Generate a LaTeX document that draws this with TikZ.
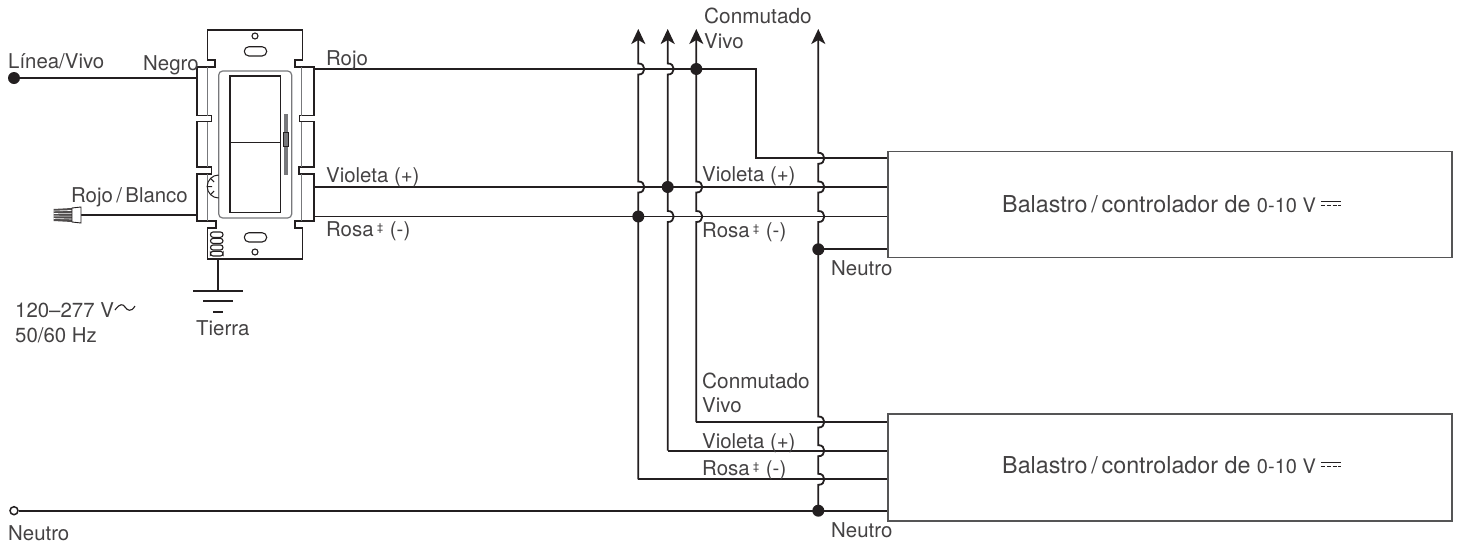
\documentclass[tikz,border=0pt]{standalone}
\usepackage{fontspec}
\setmainfont{TeX Gyre Heros}
\usetikzlibrary{arrows.meta}
\definecolor{ink}{HTML}{231F20}
\definecolor{txt}{HTML}{444243}
\definecolor{soft}{HTML}{77787B}
\definecolor{edge}{HTML}{555556}
\newcommand{\hopy}[2]{-- (#1,#2+5.5) .. controls (#1+8,#2+6) and (#1+8,#2-6) .. (#1,#2-5.5)}
\newcommand{\ddg}{\raisebox{5pt}{\fontsize{11}{11}\selectfont ‡}}
\tikzset{
 wire/.style={draw=ink,line width=1.8pt,line join=miter},
 thin part/.style={draw=soft,line width=1.2pt},
 plate/.style={draw=ink,line width=1.8pt,line join=miter},
 dotn/.style={circle,fill=ink,draw=none,minimum size=12pt,inner sep=0pt},
 lbl/.style={anchor=base west,inner sep=0pt,text=txt,font=\fontsize{20.4}{24}\selectfont},
 biglbl/.style={anchor=base west,inner sep=0pt,text=txt,font=\fontsize{20.8}{24}\selectfont},
 boxn/.style={draw=edge,line width=1.5pt,anchor=north west,inner sep=0pt},
 slot/.style={draw=ink,line width=1.1pt},
 arr/.style={-{Stealth[length=15pt,width=14pt,inset=4pt]}},
 ballast/.style={anchor=base west,inner sep=0pt,text=txt,font=\fontsize{23.3}{26}\selectfont},
}
\begin{document}
\begin{tikzpicture}[x=1pt,y=-1pt]
\useasboundingbox (0,0) rectangle (1457,544);
% boxes
\node[boxn,minimum width=564pt,minimum height=106pt] (b1) at (887.3,150.7) {};
\node[boxn,minimum width=564pt,minimum height=107pt] (b2) at (887.3,413.3) {};
% junction dots
\node[dotn] (line) at (14,78) {};
\node[dotn] (j1) at (696.3,69) {};
\node[dotn] (j2) at (667.7,187) {};
\node[dotn] (j3) at (638.3,216.5) {};
\node[dotn] (j4) at (818.3,249.3) {};
\node[dotn] (j5) at (818.3,510.7) {};
\node[circle,draw=ink,fill=white,line width=1.5pt,minimum size=8pt,inner sep=0pt] (neutral) at (14,510.7) {};
% wires from switch
\coordinate (sRojo) at (314,69);
\coordinate (sViol) at (314,187);
\coordinate (sRosa) at (314,216.5);
\coordinate (sNeg) at (197,78);
\coordinate (sRB) at (197,215);
\coordinate (nut) at (81,215);
\coordinate (r1) at (887.3,158.3);
\coordinate (r2) at (887.3,187);
\coordinate (r3) at (887.3,216.5);
\coordinate (r4) at (887.3,249.3);
\coordinate (q1) at (887.3,422);
\coordinate (q2) at (887.3,450.7);
\coordinate (q3) at (887.3,479.3);
\coordinate (q4) at (887.3,510.7);
\draw[wire] (line) -- (sNeg);
\draw[wire] (nut) -- (sRB);
\draw[wire] (sRojo) -- (j1.center) -| (756,158.3) -- (r1);
\draw[wire] (sViol) -- (r2);
\draw[wire] (sRosa) -- (r3);
\draw[wire] (j4.center) -- (r4);
\draw[wire] (neutral) -- (q4);
% risers with hops
\draw[wire,arr] (638.3,479.3) -- (j3.center) \hopy{638.3}{187} \hopy{638.3}{69} -- (638.3,29);
\draw[wire,arr] (667.7,450.7) \hopy{667.7}{216.5} -- (j2.center) \hopy{667.7}{69} -- (667.7,29);
\draw[wire,arr] (696.3,422) \hopy{696.3}{216.5} \hopy{696.3}{187} -- (j1.center) -- (696.3,29);
\draw[wire,arr] (j5.center) \hopy{818.3}{479.3} \hopy{818.3}{450.7} \hopy{818.3}{422} -- (j4.center)
  \hopy{818.3}{216.5} \hopy{818.3}{187} \hopy{818.3}{158.3} -- (818.3,29);
\draw[wire] (696.3,422) -- (q1);
\draw[wire] (667.7,450.7) -- (q2);
\draw[wire] (638.3,479.3) -- (q3);
% switch plate
\draw[plate,fill=white] (207.5,30) -- (207.5,60) -- (215,60) -- (215,67) -- (197,67) -- (197,115.5) -- (211.5,115.5) -- (211.5,121.5) -- (197,121.5) -- (197,166.7) -- (211.5,166.7) -- (211.5,173.7) -- (197,173.7) -- (197,221) -- (216,221) -- (216,228) -- (207.5,228) -- (207.5,259) -- (302.5,259) -- (302.5,228) -- (295,228) -- (295,221) -- (314,221) -- (314,173.7) -- (299,173.7) -- (299,166.7) -- (314,166.7) -- (314,121.5) -- (299.5,121.5) -- (299.5,115.5) -- (314,115.5) -- (314,67) -- (295,67) -- (295,60) -- (302.5,60) -- (302.5,30) -- cycle;
\draw[thin part] (207.7,67) -- (207.7,115.5) (207.7,121.5) -- (207.7,166.7) (207.7,173.7) -- (207.7,221) (301.7,67) -- (301.7,115.5) (301.7,121.5) -- (301.7,166.7) (301.7,173.7) -- (301.7,221);
\draw[thin part,rounded corners=4pt] (218.7,71) rectangle (291.7,218);
\draw[draw=ink,line width=1.1pt] (230,76) rectangle (280.3,212.7);
\draw[draw=ink,line width=1.1pt] (230,142.3) -- (280.3,142.3);
\draw[soft,fill=soft] (284.5,114) rectangle (287.2,174);
\draw[ink,fill=soft,line width=.8pt] (283.7,132) rectangle (288,146.7);
% dial
\draw[ink,line width=1pt] (218.7,198) arc[start angle=90,end angle=270,radius=11.5];
\draw[ink,line width=1pt] (218.7,186.5) ++(180:11.5) -- ++(0:5)
  (218.7,186.5) ++(135:11.5) -- ++(-45:5) (218.7,186.5) ++(225:11.5) -- ++(45:5);
% slots and screws
\node[draw=ink,line width=1.1pt,circle,minimum size=6pt,inner sep=0pt] (s1) at (255,36) {};
\node[draw=ink,line width=1.1pt,circle,minimum size=6pt,inner sep=0pt] (s2) at (255,252) {};
\draw[slot,rounded corners=4.6pt] (244.3,46.7) rectangle (266.7,56);
\draw[slot,rounded corners=4.6pt] (244.3,232.7) rectangle (266.7,242);
\draw[slot,rounded corners=2.5pt] (210.5,232) rectangle (223,237.3);
\draw[slot,rounded corners=2.5pt] (210.5,238.4) rectangle (223,243.4);
\draw[slot,rounded corners=2.5pt] (210.5,245) rectangle (223,250);
\draw[slot,rounded corners=2.5pt] (210.5,251.3) rectangle (223,256);
% ground
\coordinate (g0) at (218,259);
\coordinate (g1) at (218,290.7);
\draw[wire] (g0) -- (g1);
\draw[wire] (193,290.7) -- (243,290.7);
\draw[wire] (203.3,301) -- (233,301);
\draw[wire] (213,311.7) -- (223,311.7);
% wire nut
\fill[ink!80] (53.5,209) -- (72,208) -- (72,222) -- (53.5,221) -- cycle;
\foreach \y in {211,213.5,216,218.5}{\draw[white,line width=.6pt] (53.5,\y) -- (72,{215+(\y-215)*1.15});}
\draw[ink,line width=.9pt,fill=white] (72,208) -- (81,207) -- (81,223) -- (72,222) -- cycle;
% labels
\node[lbl] (t1) at (8,68) {Línea/Vivo};
\node[lbl] (t2) at (143,70) {Negro};
\node[lbl] (t3) at (71,202) {Rojo\,/\,Blanco};
\node[lbl] (t4) at (326,65) {Rojo};
\node[lbl] (t5) at (326,182) {Violeta (+)};
\node[lbl] (t6) at (326,236) {Rosa\,\ddg\,\,(-)};
\node[biglbl] (t7) at (704,23) {Conmutado};
\node[lbl] (t8) at (704,48) {Vivo};
\node[lbl] (t9) at (702,181) {Violeta (+)};
\node[lbl] (t10) at (702,237) {Rosa\,\ddg\,\,(-)};
\node[lbl] (t11) at (831,275) {Neutro};
\node[biglbl] (t12) at (702,388) {Conmutado};
\node[lbl] (t13) at (702,412) {Vivo};
\node[lbl] (t14) at (702,448) {Violeta (+)};
\node[lbl] (t15) at (702,475) {Rosa\,\ddg\,\,(-)};
\node[lbl] (t16) at (831,537) {Neutro};
\node[lbl] (t17) at (8,540) {Neutro};
\node[lbl] (t18) at (15,317) {120–277 V};
\draw[ink,line width=1.1pt] (115,310) .. controls (120,303) and (123,304) .. (125,307) .. controls (127,310) and (131,313) .. (135,306);
\node[lbl] (t19) at (15,342) {50/60 Hz};
\node[lbl] (t20) at (196,335) {Tierra};
\node[ballast] (t21) at (1002,212) {Balastro\,/\,controlador de \fontsize{20}{24}\selectfont 0-10 V};
\node[ballast] (t22) at (1002,473) {Balastro\,/\,controlador de \fontsize{20}{24}\selectfont 0-10 V};
\foreach \yy in {0,261}{
 \draw[ink,line width=1pt] (1321,201.7+\yy) -- (1341,201.7+\yy);
 \draw[ink,line width=1pt,dash pattern=on 4pt off 1.8pt] (1321,205.7+\yy) -- (1341,205.7+\yy);
}
\end{tikzpicture}
\end{document}
